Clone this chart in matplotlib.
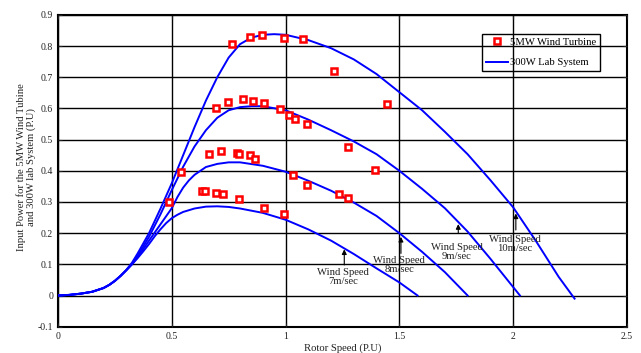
import numpy as np
from matplotlib import pyplot as plt

# rotor speed (P.U) / input power (P.U), 300W lab system curves
x_7 = [0, 0.05, 0.1, 0.15, 0.2, 0.225, 0.25, 0.275, 0.3, 0.325, 0.35, 0.375,
       0.4, 0.425, 0.45, 0.475, 0.5, 0.525, 0.55, 0.6, 0.65, 0.7, 0.75, 0.8,
       0.9, 1.0, 1.1, 1.2, 1.3, 1.4, 1.5, 1.58]
y_7 = [0, 0.002, 0.006, 0.012, 0.024, 0.034, 0.047, 0.063, 0.081, 0.1, 0.12,
       0.142, 0.165, 0.19, 0.212, 0.232, 0.248, 0.259, 0.268, 0.279, 0.285,
       0.286, 0.284, 0.279, 0.265, 0.243, 0.212, 0.176, 0.133, 0.087, 0.042, 0.0]

x_8 = [0, 0.05, 0.1, 0.15, 0.2, 0.225, 0.25, 0.275, 0.3, 0.325, 0.35, 0.4,
       0.45, 0.5, 0.525, 0.55, 0.575, 0.6, 0.65, 0.7, 0.75, 0.8, 0.9, 1.0,
       1.1, 1.2, 1.3, 1.4, 1.5, 1.6, 1.7, 1.8]
y_8 = [0, 0.002, 0.006, 0.012, 0.024, 0.034, 0.047, 0.063, 0.081, 0.1, 0.123,
       0.176, 0.228, 0.28, 0.316, 0.346, 0.369, 0.387, 0.412, 0.422, 0.427,
       0.427, 0.416, 0.397, 0.368, 0.336, 0.298, 0.255, 0.2, 0.14, 0.075, 0.0]

x_9 = [0, 0.05, 0.1, 0.15, 0.2, 0.225, 0.25, 0.275, 0.3, 0.325, 0.35, 0.4,
       0.45, 0.5, 0.55, 0.6, 0.65, 0.7, 0.75, 0.8, 0.85, 0.9, 1.0, 1.1, 1.2,
       1.3, 1.4, 1.5, 1.6, 1.7, 1.8, 1.9, 2.03]
y_9 = [0, 0.002, 0.006, 0.012, 0.024, 0.034, 0.047, 0.063, 0.081, 0.102, 0.128,
       0.188, 0.26, 0.338, 0.413, 0.478, 0.53, 0.57, 0.594, 0.604, 0.607, 0.607,
       0.594, 0.564, 0.53, 0.494, 0.453, 0.4, 0.342, 0.28, 0.205, 0.118, 0.0]

x_10 = [0, 0.05, 0.1, 0.15, 0.2, 0.225, 0.25, 0.275, 0.3, 0.325, 0.35, 0.4,
        0.45, 0.5, 0.55, 0.6, 0.65, 0.7, 0.75, 0.8, 0.85, 0.9, 0.95, 1.0, 1.1,
        1.2, 1.3, 1.4, 1.5, 1.6, 1.7, 1.8, 1.9, 2.0, 2.1, 2.2, 2.27]
y_10 = [0, 0.002, 0.006, 0.012, 0.024, 0.034, 0.047, 0.063, 0.082, 0.105, 0.135,
        0.2, 0.278, 0.36, 0.45, 0.54, 0.625, 0.7, 0.763, 0.806, 0.827, 0.836,
        0.838, 0.836, 0.819, 0.793, 0.757, 0.71, 0.652, 0.594, 0.525, 0.453,
        0.37, 0.283, 0.175, 0.06, -0.01]

# 5MW wind turbine points
turbine_x = [0.766, 0.845, 0.895, 0.994, 1.075, 1.214, 1.444,
             0.696, 0.746, 0.814, 0.855, 0.906, 0.975, 1.016, 1.043, 1.093,
             1.273, 1.393, 0.54, 0.665, 0.715, 0.785, 0.794, 0.845, 0.867,
             1.034, 1.094, 1.235, 1.273, 0.633, 0.646, 0.696, 0.725, 0.795,
             0.906, 0.994, 0.488]
turbine_y = [0.808, 0.828, 0.836, 0.826, 0.821, 0.719, 0.614,
             0.602, 0.620, 0.631, 0.624, 0.617, 0.597, 0.579, 0.565, 0.550,
             0.475, 0.402, 0.396, 0.454, 0.462, 0.458, 0.453, 0.450, 0.438,
             0.388, 0.353, 0.326, 0.312, 0.334, 0.334, 0.329, 0.325, 0.308,
             0.281, 0.260, 0.301]

speed_labels = ["Wind Speed\n7m/sec", "Wind Speed\n8m/sec",
                "Wind Speed\n9m/sec", "Wind Speed\n10m/sec"]
label_xy = [(1.254, 0.058), (1.50, 0.099), (1.753, 0.139), (2.008, 0.166)]
arrow_tip = [(1.258, 0.148), (1.507, 0.188), (1.759, 0.229), (2.012, 0.263)]
arrow_tail = [(1.258, 0.098), (1.507, 0.135), (1.759, 0.199), (2.012, 0.21)]

plt.rcParams["font.family"] = ["Liberation Serif", "DejaVu Serif"]

fig = plt.figure(figsize=(6.41, 3.53), dpi=100)
ax = fig.add_axes([0.0905, 0.0745, 0.8875, 0.8835])

blue = "#0000FF"
for xs, ys in [(x_7, y_7), (x_8, y_8), (x_9, y_9)]:
    ax.plot(xs, ys, color=blue, lw=1.4, zorder=3, solid_joinstyle="round")
ax.plot(x_10, y_10, color=blue, lw=1.4, zorder=3, solid_joinstyle="round",
        label="300W Lab System")

ax.plot(turbine_x, turbine_y, ls="none", marker="s", ms=5, mfc="white",
        mec="#FF0000", mew=1.8, zorder=4, label="5MW Wind Turbine")

for txt, (tx, ty), tip, tail in zip(speed_labels, label_xy, arrow_tip, arrow_tail):
    ax.text(tx, ty, txt, ha="center", va="center", fontsize=7.7,
            color="#222222", linespacing=1.0, zorder=5)
    ax.annotate("", xy=tip, xytext=tail,
                arrowprops=dict(arrowstyle="-|>", color="black", lw=0.8,
                                mutation_scale=7, shrinkA=0, shrinkB=0),
                zorder=5)

ax.set_xlim(0, 2.5)
ax.set_ylim(-0.1, 0.9)
ax.set_xticks(np.arange(0, 2.51, 0.5))
ax.set_yticks(np.arange(-0.1, 0.91, 0.1))
ax.set_xticklabels(["0", "0.5", "1", "1.5", "2", "2.5"])
ax.set_yticklabels(["-0.1", "0", "0.1", "0.2", "0.3", "0.4", "0.5", "0.6",
                    "0.7", "0.8", "0.9"])
ax.tick_params(direction="in", length=3, labelsize=7, colors="#222222",
               top=True, right=True)
ax.set_axisbelow(False)
ax.grid(True, color="black", lw=1.0)
for sp in ax.spines.values():
    sp.set_linewidth(1.5)

ax.set_xlabel("Rotor Speed (P.U)", fontsize=7.7, color="#222222", labelpad=2)
fig.text(26 / 641, 1 - 167.5 / 353,
         "Input Power for the 5MW Wind Tubine\nand 300W lab System (P.U)",
         rotation=90, ha="center", va="center", fontsize=7.7,
         color="#222222", linespacing=1.0)

handles, labels = ax.get_legend_handles_labels()
leg = ax.legend(handles[::-1], labels[::-1], loc="upper left",
                bbox_to_anchor=(0.746, 0.94), borderaxespad=0, fontsize=7.7,
                numpoints=1, fancybox=False, edgecolor="black",
                framealpha=1, labelspacing=1.05, handlelength=2.05,
                handletextpad=0.2, borderpad=0.35)
leg.get_frame().set_linewidth(1.0)
leg.set_zorder(2)

fig.savefig("out.png", dpi=100)
